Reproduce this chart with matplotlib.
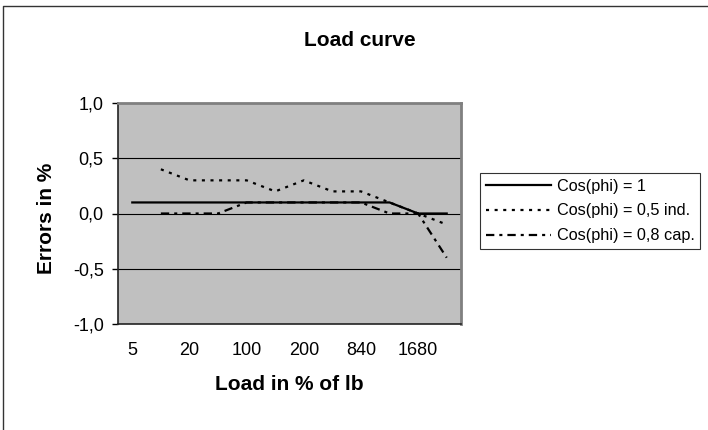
import numpy as np
import matplotlib
matplotlib.use('Agg')
import matplotlib.pyplot as plt
from matplotlib.lines import Line2D

plt.rcParams['font.family'] = ['Liberation Sans', 'DejaVu Sans']
plt.rcParams['lines.scale_dashes'] = False

# Data (Excel only prints every second category label)
load_labels = ['5', '', '20', '', '100', '', '200', '', '840', '', '1680', '']
cos_1 = [0.1, 0.1, 0.1, 0.1, 0.1, 0.1, 0.1, 0.1, 0.1, 0.1, 0.0, 0.0]
cos_05_ind = [np.nan, 0.4, 0.3, 0.3, 0.3, 0.2, 0.3, 0.2, 0.2, 0.1, 0.0, -0.1]
cos_08_cap = [np.nan, 0.0, 0.0, 0.0, 0.1, 0.1, 0.1, 0.1, 0.1, 0.0, 0.0, -0.4]
series_names = ['Cos(phi) = 1', 'Cos(phi) = 0,5 ind.', 'Cos(phi) = 0,8 cap.']
y_ticks = [-1.0, -0.5, 0.0, 0.5, 1.0]
y_tick_labels = ['-1,0', '-0,5', '0,0', '0,5', '1,0']

W, H = 708, 430
fig = plt.figure(figsize=(W / 100, H / 100), dpi=100)
ax = fig.add_axes([118 / W, 1 - 324 / H, (461 - 118) / W, (324 - 103) / H])
ax.set_facecolor('#C0C0C0')

x = np.arange(len(load_labels))
ax.plot(x, cos_1, color='black', lw=1.6, label=series_names[0])
ax.plot(x, cos_05_ind, color='black', lw=1.6, dashes=(2.2, 4.0), label=series_names[1])
ax.plot(x, cos_08_cap, color='black', lw=1.6, dashes=(6.0, 3.6, 2.2, 3.6), label=series_names[2])

ax.set_xlim(-0.5, len(load_labels) - 0.5)
ax.set_ylim(-1.0, 1.0)
ax.set_yticks(y_ticks)
ax.set_yticklabels(y_tick_labels, fontsize=13)
ax.set_xticks(x)
ax.set_xticklabels(load_labels, fontsize=13)
ax.tick_params(axis='x', length=0, pad=13)
ax.tick_params(axis='y', length=4.3, width=1, pad=6)

for v in [-0.5, 0.0, 0.5]:
    ax.axhline(v, color='black', lw=0.8, zorder=1)

for side in ['top', 'right']:
    ax.spines[side].set_color('#808080')
    ax.spines[side].set_linewidth(2)
for side in ['left', 'bottom']:
    ax.spines[side].set_color('#222222')
    ax.spines[side].set_linewidth(1.2)

fig.text(360 / W, 1 - 41 / H, 'Load curve', ha='center', va='center',
         fontsize=15, fontweight='bold')
fig.text(289 / W, 1 - 385 / H, 'Load in % of lb', ha='center', va='center',
         fontsize=15, fontweight='bold')
fig.text(47 / W, 1 - 218 / H, 'Errors in %', ha='center', va='center',
         rotation=90, fontsize=15, fontweight='bold')

leg = fig.legend(loc='upper left', bbox_to_anchor=(480 / W, 1 - 173 / H),
                 fontsize=11.7, frameon=True, fancybox=False, shadow=False,
                 handlelength=4.0, handletextpad=0.37, labelspacing=0.6,
                 borderpad=0.35, borderaxespad=0)
leg.get_frame().set_edgecolor('black')
leg.get_frame().set_linewidth(0.8)

# chart area border (only top and left show in the reference)
fig.add_artist(Line2D([3 / W, 3 / W, 1], [0, 1 - 6 / H, 1 - 6 / H],
                      transform=fig.transFigure, color='#333333', lw=1))

fig.savefig('out.png', dpi=100)
